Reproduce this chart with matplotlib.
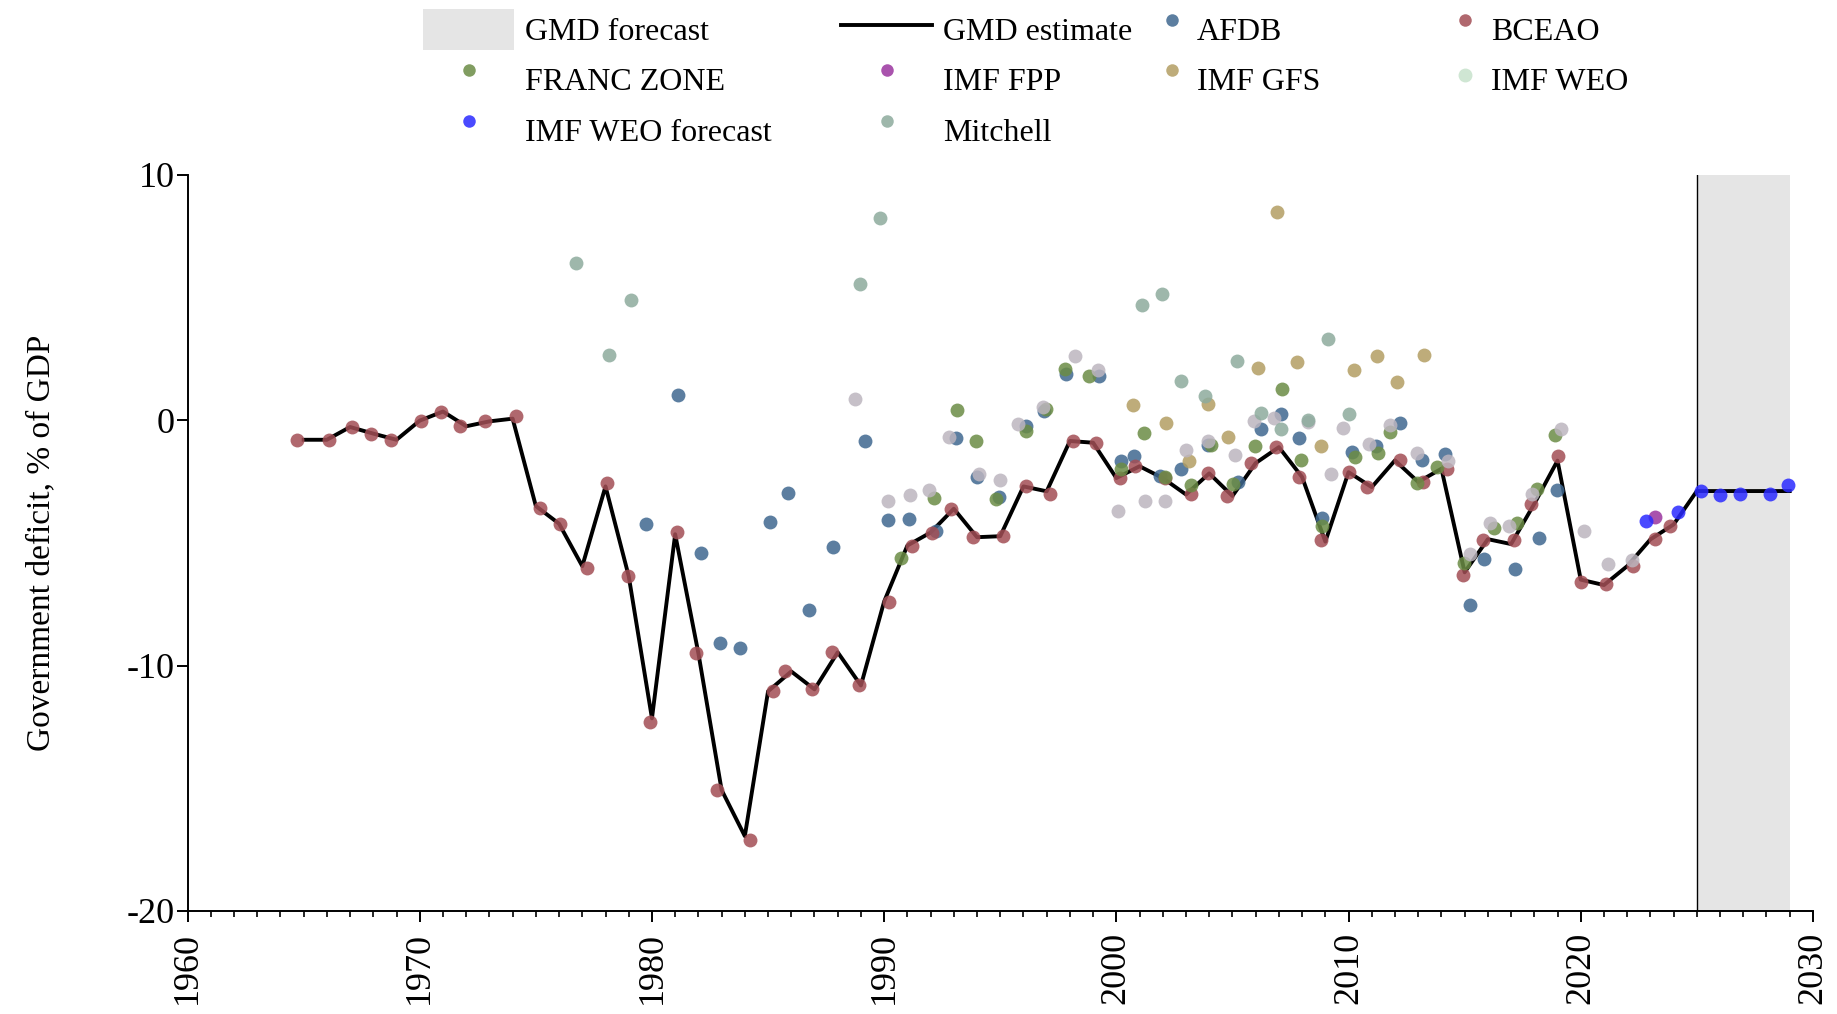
import numpy as np
import matplotlib.pyplot as plt
from matplotlib.patches import Patch
from matplotlib.lines import Line2D

plt.rcParams['font.family'] = ['Liberation Serif', 'DejaVu Serif']
plt.rcParams['axes.unicode_minus'] = False

# GMD estimate (line)
gmd_years = list(range(1965, 2030))
gmd_est = [-0.80, -0.80, -0.28, -0.55, -0.80, -0.02, 0.35, -0.25, -0.05, 0.06,
           -3.50, -4.22, -5.95, -2.70, -6.36, -12.15, -4.65, -9.50, -15.07, -16.95,
           -11.05, -10.24, -10.97, -9.46, -10.81, -7.39, -5.11, -4.58, -3.61, -4.77,
           -4.73, -2.70, -2.90, -0.85, -0.92, -2.36, -1.88, -2.36, -3.03, -2.17,
           -3.09, -1.75, -1.10, -2.32, -4.95, -2.12, -2.73, -1.64, -2.52, -1.98,
           -6.20, -4.85, -5.05, -3.41, -1.65, -6.50, -6.72, -5.95, -4.86, -4.25,
           -2.89, -2.89, -2.89, -2.89, -2.89]

bceao_x = [1964.71, 1966.11, 1967.10, 1967.92, 1968.78, 1970.07, 1970.93, 1971.73, 1972.79, 1974.16,
           1975.16, 1976.04, 1977.20, 1978.06, 1978.98, 1979.91, 1981.08, 1981.90, 1982.80, 1984.22,
           1985.20, 1985.75, 1986.89, 1987.76, 1988.93, 1990.22, 1991.19, 1992.06, 1992.86, 1993.84,
           1995.10, 1996.11, 1997.16, 1998.15, 1999.11, 2000.17, 2000.81, 2002.10, 2003.20, 2003.95,
           2004.78, 2005.80, 2006.89, 2007.85, 2008.83, 2010.01, 2010.78, 2012.23, 2013.22, 2014.26,
           2014.95, 2015.78, 2017.12, 2017.85, 2019.03, 2020.03, 2021.09, 2022.23, 2023.20, 2023.85]
bceao_y = [-0.80, -0.80, -0.28, -0.55, -0.80, -0.02, 0.35, -0.25, -0.05, 0.17,
           -3.58, -4.22, -6.02, -2.56, -6.36, -12.30, -4.54, -9.50, -15.07, -17.11,
           -11.05, -10.24, -10.97, -9.46, -10.81, -7.39, -5.11, -4.58, -3.61, -4.77,
           -4.73, -2.70, -3.01, -0.85, -0.92, -2.36, -1.88, -2.36, -3.03, -2.17,
           -3.09, -1.75, -1.10, -2.32, -4.87, -2.12, -2.73, -1.64, -2.52, -1.98,
           -6.33, -4.87, -4.87, -3.41, -1.46, -6.60, -6.68, -5.95, -4.86, -4.32]

afdb_x = [1979.73, 1981.14, 1982.13, 1982.95, 1983.79, 1985.08, 1985.88, 1986.77, 1987.81, 1989.19,
          1990.18, 1991.06, 1992.24, 1993.10, 1994.00, 1994.93, 1996.13, 1996.90, 1997.82, 1999.24,
          2000.21, 2000.77, 2001.88, 2002.78, 2003.95, 2005.25, 2006.21, 2007.08, 2007.88, 2008.85,
          2010.13, 2011.17, 2012.21, 2013.18, 2014.15, 2015.22, 2015.85, 2017.17, 2018.21, 2018.96]
afdb_y = [-4.25, 1.04, -5.41, -9.09, -9.27, -4.15, -2.96, -7.73, -5.17, -0.84,
          -4.06, -4.02, -4.52, -0.71, -2.32, -3.13, -0.24, 0.36, 1.87, 1.79,
          -1.68, -1.45, -2.29, -1.99, -1.03, -2.52, -0.36, 0.26, -0.72, -3.99,
          -1.31, -1.07, -0.10, -1.61, -1.40, -7.54, -5.64, -6.06, -4.79, -2.86]

franc_x = [1990.73, 1992.15, 1993.14, 1993.96, 1994.81, 1996.10, 1996.97, 1997.77, 1998.81, 2000.21,
           2001.19, 2002.09, 2003.23, 2004.08, 2005.01, 2005.96, 2007.12, 2007.94, 2008.85, 2010.27,
           2011.25, 2011.78, 2012.94, 2013.81, 2014.96, 2016.27, 2017.24, 2018.10, 2018.90]
franc_y = [-5.61, -3.16, 0.43, -0.85, -3.23, -0.46, 0.47, 2.10, 1.81, -1.99,
           -0.54, -2.33, -2.65, -1.00, -2.62, -1.06, 1.28, -1.61, -4.33, -1.50,
           -1.33, -0.48, -2.56, -1.91, -5.83, -4.39, -4.20, -2.80, -0.62]

fpp_x = [2023.18]
fpp_y = [-3.95]

gfs_x = [2000.72, 2002.15, 2003.13, 2003.96, 2004.82, 2006.11, 2006.90, 2007.79, 2008.83, 2010.24,
         2011.22, 2012.09, 2013.25]
gfs_y = [0.60, -0.13, -1.65, 0.67, -0.69, 2.14, 8.48, 2.36, -1.06, 2.06, 2.62, 1.55, 2.67]

weo_x = [1988.73, 1990.15, 1991.13, 1991.93, 1992.80, 1994.09, 1994.98, 1995.77, 1996.82, 1998.21,
         1999.21, 2000.07, 2001.25, 2002.09, 2003.00, 2003.96, 2005.11, 2005.91, 2006.77, 2008.27,
         2009.24, 2009.78, 2010.89, 2011.79, 2012.95, 2014.27, 2015.23, 2016.09, 2016.90, 2017.89,
         2019.14, 2020.16, 2021.19, 2022.19]
weo_y = [0.88, -3.30, -3.06, -2.86, -0.69, -2.21, -2.43, -0.17, 0.55, 2.62,
         2.03, -3.71, -3.31, -3.31, -1.20, -0.86, -1.44, -0.05, 0.10, -0.08,
         -2.18, -0.31, -0.96, -0.21, -1.33, -1.65, -5.45, -4.18, -4.33, -3.00,
         -0.38, -4.52, -5.87, -5.69]

weof_x = [2022.80, 2024.19, 2025.18, 2025.99, 2026.85, 2028.14, 2028.94]
weof_y = [-4.13, -3.75, -2.89, -3.07, -3.03, -3.00, -2.66]

mitch_x = [1976.73, 1978.14, 1979.11, 1988.94, 1989.81, 2001.11, 2001.98, 2002.78, 2003.82, 2005.21,
           2006.21, 2007.08, 2008.25, 2009.10, 2010.03]
mitch_y = [6.41, 2.64, 4.89, 5.55, 8.24, 4.71, 5.14, 1.60, 0.98, 2.40,
           0.28, -0.35, -0.01, 3.31, 0.26]

fig = plt.figure(figsize=(18.37, 10.14), dpi=100)
ax = fig.add_axes([0.1021, 0.1016, 0.8848, 0.7261])

ax.axvspan(2025, 2029, color='#e5e5e5', lw=0, zorder=0)
ax.axvline(2025, color='black', lw=1.0, zorder=1)
ax.plot(gmd_years, gmd_est, color='black', lw=2.8, zorder=2)

s = 100
a = 0.85
h_afdb = ax.scatter(afdb_x, afdb_y, s=s, color='#3f6890', alpha=a, lw=0, zorder=3)
h_bceao = ax.scatter(bceao_x, bceao_y, s=s, color='#a24e55', alpha=a, lw=0, zorder=3)
h_franc = ax.scatter(franc_x, franc_y, s=s, color='#6b8c45', alpha=a, lw=0, zorder=3)
h_fpp = ax.scatter(fpp_x, fpp_y, s=s, color='#9a359f', alpha=a, lw=0, zorder=3)
h_gfs = ax.scatter(gfs_x, gfs_y, s=s, color='#b39e63', alpha=a, lw=0, zorder=3)
h_weo = ax.scatter(weo_x, weo_y, s=s, color='#bcb5bf', alpha=a, lw=0, zorder=3)
h_weof = ax.scatter(weof_x, weof_y, s=s, color='#2a2aff', alpha=a, lw=0, zorder=3)
h_mitch = ax.scatter(mitch_x, mitch_y, s=s, color='#8dab9d', alpha=a, lw=0, zorder=3)

ax.set_xlim(1960, 2030)
ax.set_ylim(-20, 10)
ax.set_xticks(range(1960, 2031, 10))
ax.set_xticks(range(1960, 2031), minor=True)
ax.set_yticks([-20, -10, 0, 10])
ax.tick_params(axis='x', which='major', labelsize=26, length=8, width=1.4, pad=7, labelrotation=90)
ax.tick_params(axis='x', which='minor', length=4, width=1.2)
ax.tick_params(axis='y', which='major', labelsize=26, length=8, width=1.4, pad=1)
for sp in ['top', 'right']:
    ax.spines[sp].set_visible(False)
for sp in ['left', 'bottom']:
    ax.spines[sp].set_linewidth(1.4)

ax.set_ylabel('Government deficit, % of GDP', fontsize=24)
ax.yaxis.set_label_coords(-0.081, 0.5)

# legend
h_fc = Patch(facecolor='#e5e5e5', edgecolor='none')
h_est = Line2D([], [], color='black', lw=2.8)
h_weo_leg = Line2D([], [], ls='none', marker='o', ms=10, color='#cfe6d3')
common = dict(loc='upper left', frameon=False, fontsize=23, handleheight=1.56,
              labelspacing=0.32, borderpad=0, borderaxespad=0, markerscale=0.9,
              scatterpoints=1, scatteryoffsets=[0.5], bbox_transform=fig.transFigure)
fig.legend([h_fc, h_franc, h_weof, h_est, h_fpp, h_mitch],
           ['GMD forecast', 'FRANC ZONE', 'IMF WEO forecast', 'GMD estimate', 'IMF FPP', 'Mitchell'],
           ncol=2, bbox_to_anchor=(0.2303, 0.9908), handlelength=2.85, handletextpad=0.35,
           columnspacing=2.16, **common)
fig.legend([h_afdb, h_gfs, h_bceao, h_weo_leg],
           ['AFDB', 'IMF GFS', 'BCEAO', 'IMF WEO'],
           ncol=2, bbox_to_anchor=(0.6326, 0.9908), handlelength=0.6, handletextpad=0.5,
           columnspacing=4.23, **common)

fig.savefig('out.png', dpi=100)
